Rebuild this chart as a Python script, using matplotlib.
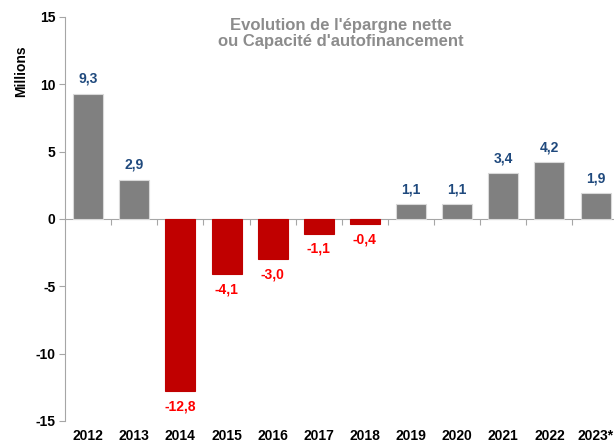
import matplotlib.pyplot as plt
import numpy as np

plt.rcParams["font.family"] = ["Liberation Sans Narrow", "Liberation Sans", "DejaVu Sans"]
plt.rcParams["axes.unicode_minus"] = False

years = ["2012", "2013", "2014", "2015", "2016", "2017", "2018",
         "2019", "2020", "2021", "2022", "2023*"]
values = [9.3, 2.9, -12.8, -4.1, -3.0, -1.1, -0.4, 1.1, 1.1, 3.4, 4.2, 1.9]

fig = plt.figure(figsize=(6.14, 4.45), dpi=100)
ax = fig.add_axes([0.106, 0.054, 0.894, 0.908])

x = np.arange(len(years))
colors = ["#808080" if v >= 0 else "#C00000" for v in values]
edges = ["#D9D9D9" if v >= 0 else "#C00000" for v in values]
ax.bar(x, values, width=0.65, color=colors, edgecolor=edges, linewidth=0.8, zorder=2)

for xi, v in zip(x, values):
    label = f"{v:.1f}".replace(".", ",")
    if v >= 0:
        ax.text(xi, v + 0.6, label, ha="center", va="bottom", fontsize=10,
                fontweight="bold", color="#1F497D")
    else:
        ax.text(xi, v - 0.6, label, ha="center", va="top", fontsize=10,
                fontweight="bold", color="#FF0000")

ax.set_ylim(-15, 15)
ax.set_yticks([-15, -10, -5, 0, 5, 10, 15])
ax.set_xlim(-0.5, 11.4)
ax.set_xticks(x)
ax.set_xticklabels(years)

# zero axis line with small ticks between categories
zero_ax = ax.secondary_xaxis(0.5)
zero_ax.set_xticks(x[:-1] + 0.5)
zero_ax.set_xticklabels([])
for sp in zero_ax.spines.values():
    sp.set_color("#A6A6A6")
zero_ax.tick_params(length=4, color="#A6A6A6", direction="in")

for s in ["top", "right", "bottom"]:
    ax.spines[s].set_visible(False)
ax.spines["left"].set_color("#A6A6A6")
ax.tick_params(axis="y", length=4, color="#A6A6A6", labelsize=10, pad=3)
ax.tick_params(axis="x", length=0, labelsize=10, pad=6)
for lbl in ax.get_xticklabels() + ax.get_yticklabels():
    lbl.set_fontweight("bold")
    lbl.set_color("#000000")

fig.text(0.035, 0.84, "Millions", rotation=90, ha="center", va="center",
         fontsize=10, fontweight="bold")
fig.text(0.555, 0.925, "Evolution de l'épargne nette\nou Capacité d'autofinancement",
         ha="center", va="center", fontsize=12, fontweight="bold", color="#8C8C8C",
         linespacing=1.1)

fig.savefig("out.png", dpi=100)
